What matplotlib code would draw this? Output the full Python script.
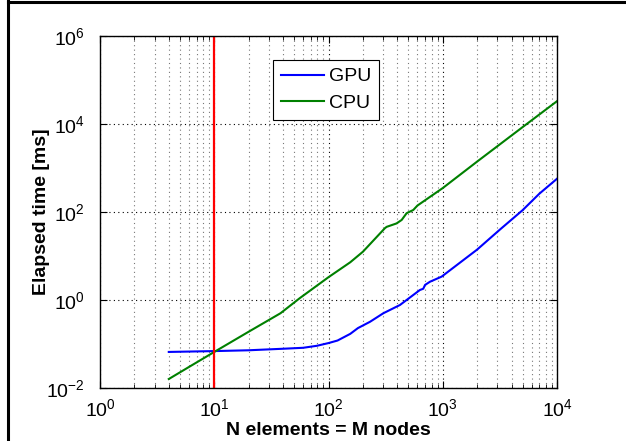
import numpy as np
import matplotlib
matplotlib.use('Agg')
import matplotlib.pyplot as plt
from matplotlib.lines import Line2D
from matplotlib.ticker import FixedLocator, LogLocator, NullLocator

plt.rcParams['font.family'] = ['Liberation Sans', 'DejaVu Sans']
plt.rcParams['mathtext.fontset'] = 'custom'
plt.rcParams['mathtext.rm'] = 'Liberation Sans'
plt.rcParams['mathtext.default'] = 'regular'

# Valeurs
n_gpu = [4, 10, 20, 40, 60, 79, 100, 120, 155, 181, 231, 302, 422, 552, 631, 675,
         700, 773, 978, 2000, 3170, 5000, 7000, 10000]
t_gpu = [0.066, 0.069, 0.072, 0.078, 0.082, 0.091, 0.105, 0.12, 0.17, 0.23, 0.32,
         0.5, 0.77, 1.3, 1.69, 1.8, 2.2, 2.6, 3.4, 14, 40, 110, 260, 570]

n_cpu = [4, 6, 10, 20, 38, 56, 100, 155, 200, 312, 323, 394, 437, 483, 552, 600,
         1000, 2000, 5000, 10000]
t_cpu = [0.016, 0.030, 0.066, 0.19, 0.5, 1.1, 3.3, 7.2, 12.5, 43, 46, 55, 66, 94,
         111, 140, 350, 1400, 8500, 33000]

x_seuil = 10
yticks = [1e-2, 1e0, 1e2, 1e4, 1e6]
xticks = [1e0, 1e1, 1e2, 1e3, 1e4]

fig = plt.figure(figsize=(6.26, 4.41), dpi=100)
ax = fig.add_axes([100 / 626, 1 - 388 / 441, 457 / 626, 352 / 441])

ax.plot(n_gpu, t_gpu, color='#0000ff', linewidth=1.5, label='GPU')
ax.plot(n_cpu, t_cpu, color='#008000', linewidth=1.5, label='CPU')
ax.axvline(x_seuil, color='#ff0000', linewidth=1.6)

ax.set_xscale('log')
ax.set_yscale('log')
ax.set_xlim(1, 1e4)
ax.set_ylim(1e-2, 1e6)

ax.xaxis.set_major_locator(FixedLocator(xticks))
ax.xaxis.set_minor_locator(LogLocator(base=10, subs=np.arange(2, 10), numticks=20))
ax.yaxis.set_major_locator(FixedLocator(yticks))
ax.yaxis.set_minor_locator(NullLocator())
ax.set_xticklabels([r'$10^{%d}$' % int(np.log10(v)) for v in xticks])
ax.set_yticklabels([r'$10^{%d}$' % int(np.log10(v)) for v in yticks])

ax.tick_params(which='both', direction='in', top=True, right=True, labelsize=14)
ax.tick_params(which='major', length=5)
ax.tick_params(axis='x', which='major', pad=7)
ax.tick_params(axis='y', which='major', pad=11)
ax.tick_params(which='minor', length=3)

ax.grid(True, which='major', color='black', linestyle=(0, (1, 3)), linewidth=0.8)
ax.grid(True, which='minor', axis='x', color='#777777', linestyle=(0, (1, 3)), linewidth=0.8)

for s in ax.spines.values():
    s.set_linewidth(1.0)

ax.set_xlabel('N elements = M nodes', fontsize=14, fontweight='bold', labelpad=2)
ax.set_ylabel('Elapsed time [ms]', fontsize=14, fontweight='bold', labelpad=-3)

leg = ax.legend(loc='upper left', bbox_to_anchor=(173 / 457, 1 - 24 / 352),
                borderaxespad=0, fontsize=14, handlelength=2.2, handletextpad=0.28,
                borderpad=0.4, labelspacing=0.45, fancybox=False, framealpha=1)
leg.get_frame().set_edgecolor('black')
leg.get_frame().set_linewidth(0.8)

# Cadre partiel autour de l'image
fig.add_artist(Line2D([7.5 / 626, 7.5 / 626], [0, 1], color='black', linewidth=2.2))
fig.add_artist(Line2D([7.5 / 626, 1], [1 - 1.5 / 441, 1 - 1.5 / 441], color='black', linewidth=2.2))

fig.savefig('out.png', dpi=100)
